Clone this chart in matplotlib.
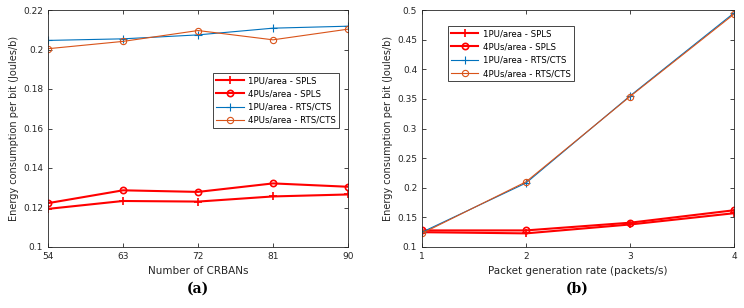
import matplotlib.pyplot as plt
import numpy as np

# (a) energy vs number of CRBANs
crbans = [54, 63, 72, 81, 90]
a_1pu_spls = [0.1193, 0.1233, 0.1230, 0.1256, 0.1266]
a_4pu_spls = [0.1222, 0.1287, 0.1279, 0.1322, 0.1305]
a_1pu_rts = [0.2046, 0.2054, 0.2074, 0.2108, 0.2118]
a_4pu_rts = [0.2004, 0.2041, 0.2096, 0.2049, 0.2103]

# (b) energy vs packet generation rate
rates = [1, 2, 3, 4]
b_1pu_spls = [0.125, 0.123, 0.138, 0.157]
b_4pu_spls = [0.128, 0.128, 0.141, 0.162]
b_1pu_rts = [0.125, 0.208, 0.355, 0.495]
b_4pu_rts = [0.123, 0.210, 0.354, 0.493]

labels = ['1PU/area - SPLS', '4PUs/area - SPLS', '1PU/area - RTS/CTS', '4PUs/area - RTS/CTS']
blue = (0, 0.447, 0.741)
orange = (0.85, 0.325, 0.098)

plt.rcParams['font.family'] = 'DejaVu Sans'

fig = plt.figure(figsize=(7.44, 3.08), dpi=100)
ax1 = fig.add_axes([48/744, 1-247/308, 300/744, 237/308])
ax2 = fig.add_axes([422/744, 1-247/308, 312/744, 237/308])


def draw(ax, x, s1, s2, r1, r2):
    ax.plot(x, s1, color='red', marker='+', ms=6, mew=1.2, lw=1.5, label=labels[0])
    ax.plot(x, s2, color='red', marker='o', ms=4.5, mfc='none', mew=1.2, lw=1.5, label=labels[1])
    ax.plot(x, r1, color=blue, marker='+', ms=6, mew=0.8, lw=0.8, label=labels[2])
    ax.plot(x, r2, color=orange, marker='o', ms=4.5, mfc='none', mew=0.8, lw=0.8, label=labels[3])
    ax.tick_params(direction='in', labelsize=6.5, length=3, width=0.6, top=True, right=True,
                   colors='#262626')
    for sp in ax.spines.values():
        sp.set_linewidth(0.6)
        sp.set_color('#262626')
    ax.set_ylabel('Energy consumption per bit (Joules/b)', fontsize=7, color='#262626', labelpad=3)


def legend(ax, anchor):
    leg = ax.legend(loc='upper left', bbox_to_anchor=anchor, fontsize=6.2, frameon=True,
                    fancybox=False, edgecolor='#262626', framealpha=1, handlelength=3.2,
                    borderpad=0.35, labelspacing=0.5, handletextpad=0.5, borderaxespad=0)
    leg.get_frame().set_linewidth(0.6)


draw(ax1, crbans, a_1pu_spls, a_4pu_spls, a_1pu_rts, a_4pu_rts)
ax1.set_xlim(54, 90)
ax1.set_ylim(0.1, 0.22)
ax1.set_xticks(crbans)
ax1.set_yticks(np.arange(0.1, 0.2201, 0.02))
ax1.set_yticklabels(['0.1', '0.12', '0.14', '0.16', '0.18', '0.2', '0.22'])
ax1.set_xlabel('Number of CRBANs', fontsize=7.5, color='#262626', labelpad=4)
legend(ax1, (0.55, 0.734))

draw(ax2, rates, b_1pu_spls, b_4pu_spls, b_1pu_rts, b_4pu_rts)
ax2.set_xlim(1, 4)
ax2.set_ylim(0.1, 0.5)
ax2.set_xticks(rates)
ax2.set_yticks(np.arange(0.1, 0.5001, 0.05))
ax2.set_yticklabels(['0.1', '0.15', '0.2', '0.25', '0.3', '0.35', '0.4', '0.45', '0.5'])
ax2.set_xlabel('Packet generation rate (packets/s)', fontsize=7.5, color='#262626', labelpad=4)
legend(ax2, (0.083, 0.932))

fig.text(198/744, 1-289/308, '(a)', ha='center', va='center', fontsize=10,
         fontweight='bold', family='DejaVu Serif')
fig.text(577/744, 1-289/308, '(b)', ha='center', va='center', fontsize=10,
         fontweight='bold', family='DejaVu Serif')

fig.savefig('out.png', dpi=100)
